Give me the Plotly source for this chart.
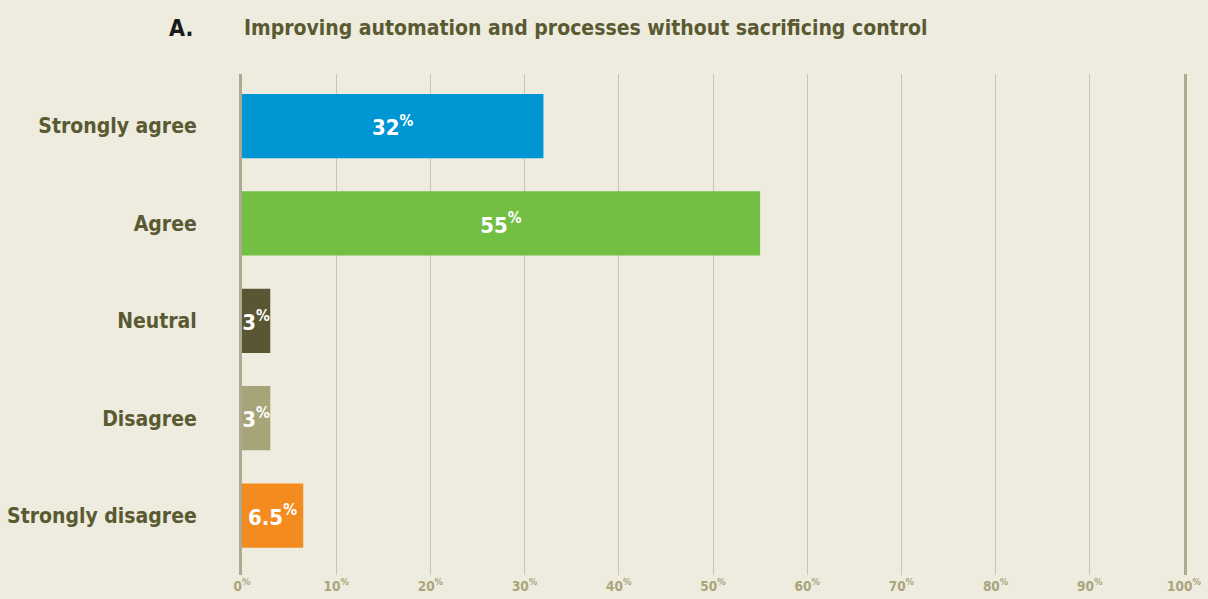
import plotly.graph_objects as go

categories = ["Strongly agree", "Agree", "Neutral", "Disagree", "Strongly disagree"]
values = [32, 55, 3, 3, 6.5]
value_labels = ["32", "55", "3", "3", "6.5"]
colors = ["#0096d3", "#72bf44", "#5a5633", "#a8a479", "#f38b1f"]
tick_vals = [0, 10, 20, 30, 40, 50, 60, 70, 80, 90, 100]
tick_text = [f"<b>{v}<sup>%</sup></b>" for v in tick_vals]

FONT = "DejaVu Sans Condensed, Liberation Sans Narrow, sans-serif"
BG = "#eeebdf"
OLIVE = "#5a5a32"

fig = go.Figure()
fig.add_trace(go.Bar(
    y=categories,
    x=values,
    orientation="h",
    marker=dict(color=colors, line=dict(width=0)),
    width=0.66,
    text=[f"<b>{t}<sup>%</sup></b>" for t in value_labels],
    textposition="inside",
    insidetextanchor="middle",
    textangle=0,
    constraintext="none",
    textfont=dict(family=FONT, size=22, color="white"),
    hoverinfo="skip",
))

fig.update_layout(
    width=1208, height=599,
    paper_bgcolor=BG, plot_bgcolor=BG,
    margin=dict(l=242, r=24, t=74, b=24),
    showlegend=False,
    bargap=0.34,
    xaxis=dict(
        range=[0, 100],
        tickvals=tick_vals, ticktext=tick_text,
        showgrid=True, gridcolor="#c9c5b1", gridwidth=1,
        zeroline=False, showline=False,
        tickfont=dict(family=FONT, size=13.5, color="#aaa57b"),
        ticks="", automargin=False, fixedrange=True,
        ticklabelstandoff=1,
    ),
    yaxis=dict(
        categoryorder="array", categoryarray=categories,
        range=[4.61, -0.535],
        showgrid=False, zeroline=False,
        showline=True, linecolor="#aeaa90", linewidth=3, mirror=True,
        tickfont=dict(family=FONT, size=21, color=OLIVE, weight="bold"),
        ticks="", ticklabelstandoff=38, automargin=False, fixedrange=True,
    ),
    annotations=[
        dict(text="<b>A.</b>", xref="paper", yref="paper", x=-0.0499, y=1.0,
             yshift=46, xanchor="right", yanchor="middle", showarrow=False,
             font=dict(family=FONT, size=23, color="#1a1a1a")),
        dict(text="<b>Improving automation and processes without sacrificing control</b>",
             xref="paper", yref="paper", x=0.0, y=1.0, yshift=46,
             xanchor="left", yanchor="middle", showarrow=False,
             font=dict(family=FONT, size=21, color=OLIVE)),
    ],
)

fig.write_html("out.html")
